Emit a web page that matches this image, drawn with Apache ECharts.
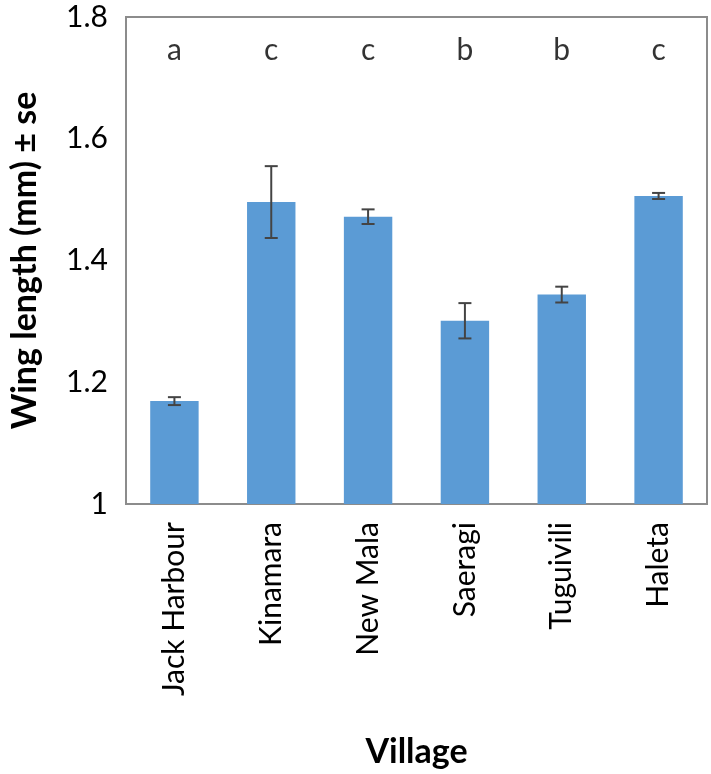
<!DOCTYPE html>
<html>
<head>
<meta charset="utf-8">
<script src="https://cdn.jsdelivr.net/npm/echarts@6/dist/echarts.min.js"></script>
<style>
  html, body { margin: 0; padding: 0; background: #fff; }
  #chart { width: 711px; height: 774px; }
</style>
</head>
<body>
<div id="chart"></div>
<script>
// data
var villages = ['Jack Harbour', 'Kinamara', 'New Mala', 'Saeragi', 'Tuguivili', 'Haleta']
var wingLength = [1.169, 1.496, 1.472, 1.301, 1.344, 1.506]
var stdErr = [0.0065, 0.059, 0.012, 0.029, 0.013, 0.005]
var groupLetters = ['a', 'c', 'c', 'b', 'b', 'c']
var letterLevel = 1.745
var yTicks = [1, 1.2, 1.4, 1.6, 1.8]

var FONT = 'Lato'

var chart = echarts.init(document.getElementById('chart'))

// error bar data: [index, low, high]
var errData = []
for (var i = 0; i < villages.length; i++) {
  errData.push([i, wingLength[i] - stdErr[i], wingLength[i] + stdErr[i]])
}

var option = {
  animation: false,
  grid: {
    left: 121,
    top: 17,
    right: 4,
    bottom: 269,
    show: true,
    borderColor: '#8c8c8c',
    borderWidth: 2,
    backgroundColor: '#fff'
  },
  xAxis: {
    type: 'category',
    data: villages,
    name: 'Village',
    nameLocation: 'middle',
    nameGap: 231,
    nameTextStyle: { fontFamily: FONT, fontSize: 34, fontWeight: 'bold', color: '#000' },
    axisLine: { show: false },
    axisTick: { show: false },
    axisLabel: {
      rotate: 90,
      margin: 18,
      fontFamily: FONT,
      fontSize: 30,
      color: '#000'
    }
  },
  yAxis: {
    type: 'value',
    min: yTicks[0],
    max: yTicks[yTicks.length - 1],
    interval: 0.2,
    name: 'Wing length (mm) ± se',
    nameLocation: 'middle',
    nameGap: 84,
    nameTextStyle: { fontFamily: FONT, fontSize: 34, fontWeight: 'bold', color: '#000' },
    axisLine: { show: false },
    axisTick: { show: false },
    splitLine: { show: false },
    axisLabel: {
      margin: 18,
      fontFamily: FONT,
      fontSize: 30,
      color: '#000',
      formatter: function (v) { return String(Math.round(v * 10) / 10) }
    }
  },
  series: [
    {
      type: 'bar',
      data: wingLength,
      barWidth: '50%',
      itemStyle: { color: '#5b9bd5' }
    },
    {
      type: 'custom',
      data: errData,
      z: 5,
      renderItem: function (params, api) {
        var idx = api.value(0)
        var lo = api.coord([idx, api.value(1)])
        var hi = api.coord([idx, api.value(2)])
        var half = 6.5
        var style = { stroke: '#444', lineWidth: 2 }
        return {
          type: 'group',
          children: [
            { type: 'line', shape: { x1: hi[0], y1: hi[1], x2: lo[0], y2: lo[1] }, style: style },
            { type: 'line', shape: { x1: hi[0] - half, y1: hi[1], x2: hi[0] + half, y2: hi[1] }, style: style },
            { type: 'line', shape: { x1: lo[0] - half, y1: lo[1], x2: lo[0] + half, y2: lo[1] }, style: style }
          ]
        }
      }
    },
    {
      type: 'scatter',
      symbolSize: 0,
      data: groupLetters.map(function (l, i) { return { value: [i, letterLevel], name: l } }),
      label: {
        show: true,
        position: 'inside',
        fontFamily: FONT,
        fontSize: 30,
        color: '#000',
        formatter: function (p) { return p.name }
      }
    }
  ]
}

chart.setOption(option)
</script>
</body>
</html>
